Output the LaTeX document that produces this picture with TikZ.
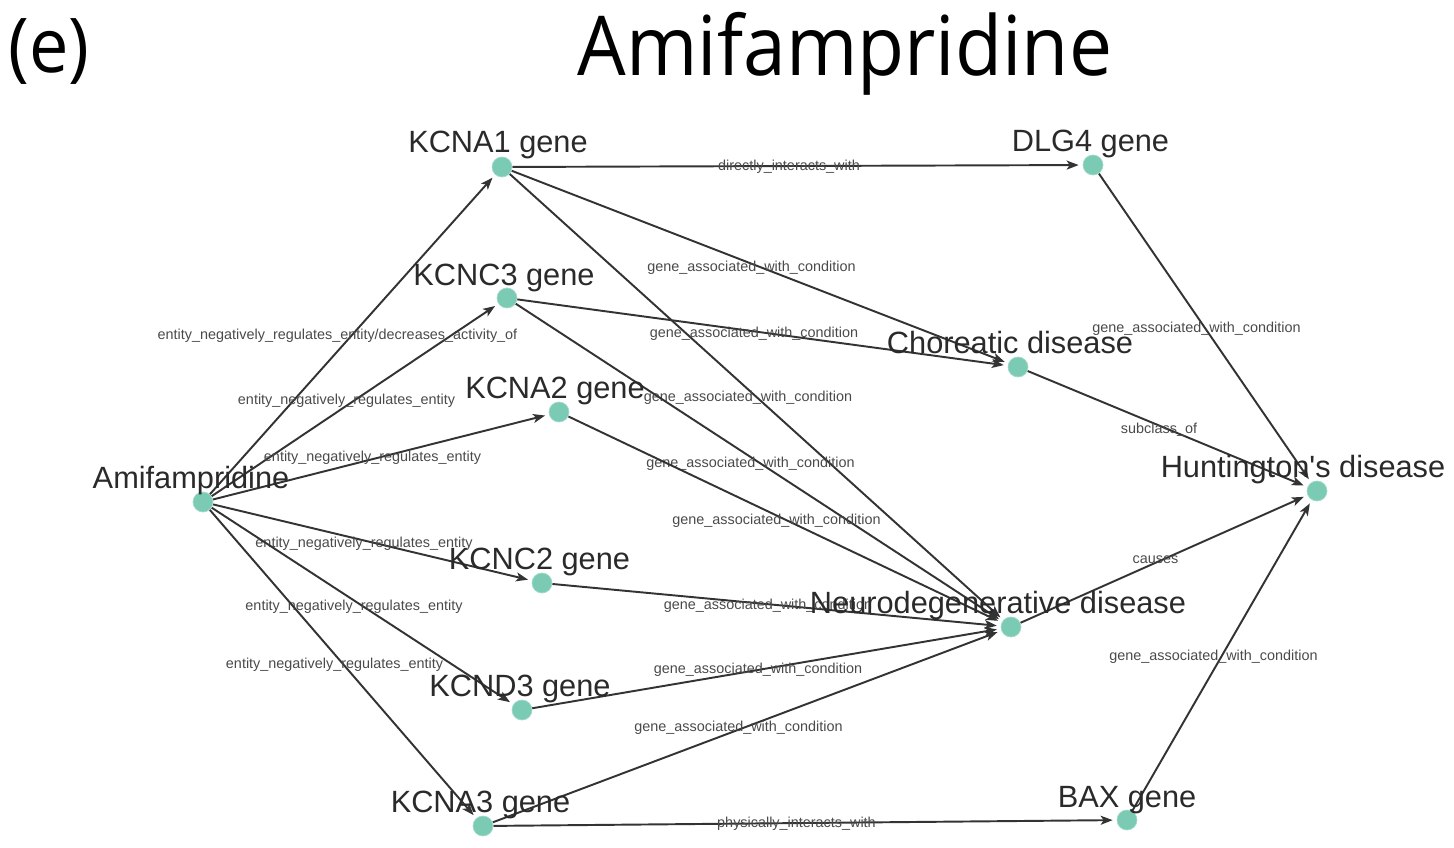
\documentclass[tikz,border=0pt]{standalone}
\usepackage{fontspec}
\setmainfont{Liberation Sans}
\newfontfamily\titlefont[FakeStretch=0.93]{Open Sans}
\usetikzlibrary{arrows.meta,backgrounds}
\definecolor{nodeteal}{HTML}{7ACAB4}
\definecolor{edgegray}{HTML}{333333}
\definecolor{lblgray}{HTML}{2A2A2A}
\definecolor{elblgray}{HTML}{4A4A4A}
\begin{document}
\begin{tikzpicture}[x=0.02cm,y=-0.02cm,
  ent/.style={circle, fill=nodeteal, draw=nodeteal!70!white, line width=0.4pt, minimum size=0.4cm, inner sep=0pt},
  lbl/.style={anchor=base, text=lblgray, font=\fontsize{17.5}{20}\selectfont, inner sep=0pt},
  elbl/.style={text=elblgray, font=\fontsize{8.2}{10}\selectfont, inner sep=0pt, xshift=-0.17cm, yshift=-0.02cm},
  rel/.style={draw=edgegray, line width=1.1pt, -{Stealth[length=0.24cm,width=0.18cm,inset=0.06cm]}, shorten >=0.08cm},
  ttl/.style={anchor=base, inner sep=0pt, text=black}
]
\useasboundingbox (0,0) rectangle (1454,848);

% titles
\node[ttl, font=\titlefont\fontsize{43}{48}\selectfont] (panel) at (49,73) {(e)};
\node[ttl, font=\titlefont\fontsize{47}{52}\selectfont] (title) at (845,76) {Amifampridine};

% entities
\node[ent] (amif)  at (203,502) {};
\node[ent] (kcna1) at (502,167) {};
\node[ent] (kcnc3) at (507,298) {};
\node[ent] (kcna2) at (559,412) {};
\node[ent] (kcnc2) at (542,583) {};
\node[ent] (kcnd3) at (522,710) {};
\node[ent] (kcna3) at (483,826) {};
\node[ent] (dlg4)  at (1093,165) {};
\node[ent] (chor)  at (1018,367) {};
\node[ent] (neuro) at (1011,627) {};
\node[ent] (hunt)  at (1317,491) {};
\node[ent] (bax)   at (1127,820) {};

% entity labels
\node[lbl] (amif-l)  at (191,488)   {Amifampridine};
\node[lbl] (kcna1-l) at (498,153)   {KCNA1 gene};
\node[lbl] (kcnc3-l) at (504,285)   {KCNC3 gene};
\node[lbl] (kcna2-l) at (555,398)   {KCNA2 gene};
\node[lbl] (kcnc2-l) at (539.5,569) {KCNC2 gene};
\node[lbl] (kcnd3-l) at (520,696)   {KCND3 gene};
\node[lbl] (kcna3-l) at (480.5,812) {KCNA3 gene};
\node[lbl] (dlg4-l)  at (1090.5,152) {DLG4 gene};
\node[lbl] (chor-l)  at (1010,353)  {Choreatic disease};
\node[lbl] (neuro-l) at (998,613)   {Neurodegenerative disease};
\node[lbl] (hunt-l)  at (1303,477)  {Huntington\textquotesingle s disease};
\node[lbl] (bax-l)   at (1127,807)  {BAX gene};

\begin{scope}[on background layer]
\draw[rel] (amif) -- node[elbl, xshift=-0.13cm] {entity\_negatively\_regulates\_entity/decreases\_activity\_of} (kcna1);
\draw[rel] (amif) -- node[elbl] {entity\_negatively\_regulates\_entity} (kcnc3);
\draw[rel] (amif) -- node[elbl] {entity\_negatively\_regulates\_entity} (kcna2);
\draw[rel] (amif) -- node[elbl] {entity\_negatively\_regulates\_entity} (kcnc2);
\draw[rel] (amif) -- node[elbl] {entity\_negatively\_regulates\_entity} (kcnd3);
\draw[rel] (amif) -- node[elbl] {entity\_negatively\_regulates\_entity} (kcna3);
\draw[rel] (kcna1) -- node[elbl] {directly\_interacts\_with} (dlg4);
\draw[rel] (kcna1) -- node[elbl] {gene\_associated\_with\_condition} (chor);
\draw[rel] (kcna1) -- node[elbl] {gene\_associated\_with\_condition} (neuro);
\draw[rel] (kcnc3) -- node[elbl] {gene\_associated\_with\_condition} (chor);
\draw[rel] (kcnc3) -- node[elbl] {gene\_associated\_with\_condition} (neuro);
\draw[rel] (kcna2) -- node[elbl] {gene\_associated\_with\_condition} (neuro);
\draw[rel] (kcnc2) -- node[elbl] {gene\_associated\_with\_condition} (neuro);
\draw[rel] (kcnd3) -- node[elbl] {gene\_associated\_with\_condition} (neuro);
\draw[rel] (kcna3) -- node[elbl] {gene\_associated\_with\_condition} (neuro);
\draw[rel] (kcna3) -- node[elbl] {physically\_interacts\_with} (bax);
\draw[rel] (dlg4) -- node[elbl] {gene\_associated\_with\_condition} (hunt);
\draw[rel] (chor) -- node[elbl] {subclass\_of} (hunt);
\draw[rel] (neuro) -- node[elbl] {causes} (hunt);
\draw[rel] (bax) -- node[elbl] {gene\_associated\_with\_condition} (hunt);
\end{scope}
\end{tikzpicture}
\end{document}
